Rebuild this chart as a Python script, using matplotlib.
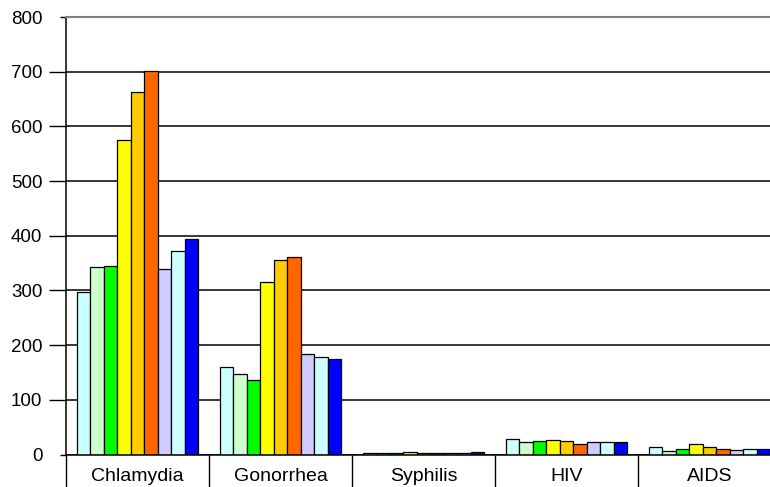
import numpy as np
import matplotlib.pyplot as plt

plt.rcParams['font.family'] = ['Liberation Sans', 'DejaVu Sans']

diseases = ["Chlamydia", "Gonorrhea", "Syphilis", "HIV", "AIDS"]
colors = ["#CCFFFF", "#CCFFCC", "#00FF00", "#FFFF00", "#FFCC00",
          "#FF6600", "#CCCCFF", "#CCFFFF", "#0000FF"]

# one row per series, one value per disease
rates = [
    [298, 160, 2, 28, 13],
    [342, 148, 2, 22, 7],
    [345, 137, 2, 24, 10],
    [575, 315, 5, 27, 20],
    [663, 356, 2, 24, 13],
    [701, 362, 2, 20, 10],
    [339, 183, 2, 22, 9],
    [372, 178, 2, 22, 10],
    [394, 175, 5, 22, 10],
]

fig = plt.figure(figsize=(7.7, 4.87), dpi=100)
ax = fig.add_axes([66 / 770, 32.5 / 487, 715 / 770, 437.5 / 487])

x = np.arange(len(diseases))
n = len(rates)
w = 0.847 / n
for i, vals in enumerate(rates):
    ax.bar(x - 0.847 / 2 + w * (i + 0.5), vals, width=w, color=colors[i],
           edgecolor="black", linewidth=0.9, zorder=3)

ax.set_xlim(-0.5, len(diseases) - 0.5)
ax.set_ylim(0, 800)
ax.set_yticks(range(0, 801, 100))
ax.yaxis.grid(True, color="black", linewidth=1.1, zorder=0)
ax.tick_params(axis="y", direction="out", length=12, width=1, labelsize=13.5, pad=5)
# the end ticks are shorter than the inner ones
yt = ax.yaxis.get_major_ticks()
for t in (yt[0], yt[-1]):
    t.tick1line.set_markersize(4.5)

ax.set_xticks(x)
ax.set_xticklabels(diseases, fontsize=14)
ax.set_xticks(np.arange(-0.5, len(diseases)), minor=True)
ax.tick_params(axis="x", which="major", length=0, pad=10)
ax.tick_params(axis="x", which="minor", length=24, width=1, direction="out")

ax.spines["right"].set_visible(False)
ax.spines["top"].set_color("#808080")
ax.spines["top"].set_linewidth(1.5)
ax.spines["left"].set_linewidth(1.1)
ax.spines["bottom"].set_linewidth(1.1)
ax.spines["bottom"].set_zorder(4)

fig.savefig("out.png", dpi=100)
